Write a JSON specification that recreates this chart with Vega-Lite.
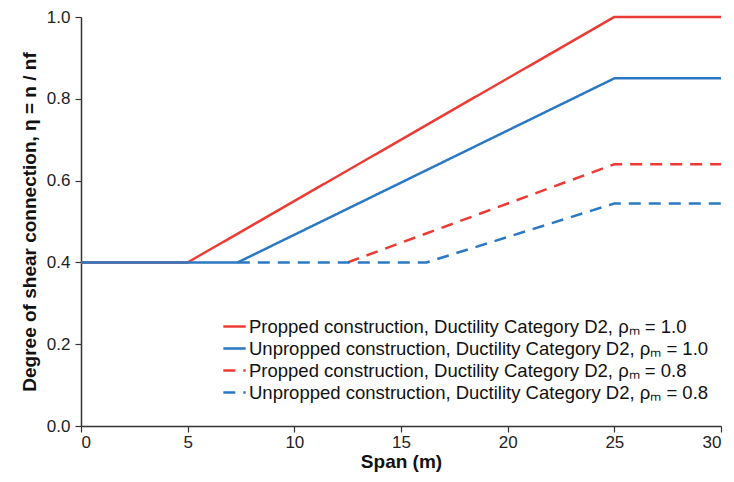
{
  "$schema": "https://vega.github.io/schema/vega-lite/v6.json",
  "width": 640,
  "height": 409,
  "autosize": {"type": "none"},
  "padding": {"left": 81, "top": 17, "right": 13, "bottom": 56},
  "background": "white",
  "config": {
    "font": "Liberation Sans",
    "view": {"stroke": null},
    "axis": {"grid": false, "domainColor": "#333", "tickColor": "#333", "domainWidth": 1.5, "tickWidth": 1.2, "tickSize": 6, "labelFontSize": 17, "labelColor": "#222", "titleFontSize": 19, "titleFontWeight": "bold", "titleColor": "#111"}
  },
  "data": {"values": [
    {"series": "Propped construction, Ductility Category D2, ρₘ = 1.0", "x": 0, "y": 0.4},
    {"series": "Propped construction, Ductility Category D2, ρₘ = 1.0", "x": 5, "y": 0.4},
    {"series": "Propped construction, Ductility Category D2, ρₘ = 1.0", "x": 25, "y": 1.0},
    {"series": "Propped construction, Ductility Category D2, ρₘ = 1.0", "x": 30, "y": 1.0},
    {"series": "Unpropped construction, Ductility Category D2, ρₘ = 1.0", "x": 0, "y": 0.4},
    {"series": "Unpropped construction, Ductility Category D2, ρₘ = 1.0", "x": 7.35, "y": 0.4},
    {"series": "Unpropped construction, Ductility Category D2, ρₘ = 1.0", "x": 25, "y": 0.85},
    {"series": "Unpropped construction, Ductility Category D2, ρₘ = 1.0", "x": 30, "y": 0.85},
    {"series": "Propped construction, Ductility Category D2, ρₘ = 0.8", "x": 12.5, "y": 0.4},
    {"series": "Propped construction, Ductility Category D2, ρₘ = 0.8", "x": 25, "y": 0.64},
    {"series": "Propped construction, Ductility Category D2, ρₘ = 0.8", "x": 30, "y": 0.64},
    {"series": "Unpropped construction, Ductility Category D2, ρₘ = 0.8", "x": 7.35, "y": 0.4},
    {"series": "Unpropped construction, Ductility Category D2, ρₘ = 0.8", "x": 16.2, "y": 0.4},
    {"series": "Unpropped construction, Ductility Category D2, ρₘ = 0.8", "x": 25, "y": 0.544},
    {"series": "Unpropped construction, Ductility Category D2, ρₘ = 0.8", "x": 30, "y": 0.544}
  ]},
  "mark": {"type": "line", "strokeWidth": 2.5, "clip": false},
  "encoding": {
    "x": {"field": "x", "type": "quantitative", "scale": {"domain": [0, 30], "nice": false}, "axis": {"values": [0, 5, 10, 15, 20, 25, 30], "title": "Span (m)", "titlePadding": 2, "labelPadding": 2}},
    "y": {"field": "y", "type": "quantitative", "scale": {"domain": [0, 1], "nice": false}, "axis": {"values": [0, 0.2, 0.4, 0.6, 0.8, 1.0], "format": ".1f", "title": "Degree of shear connection, η = n / nf", "titlePadding": 7, "labelPadding": 5}},
    "color": {"field": "series", "type": "nominal",
      "scale": {"domain": ["Propped construction, Ductility Category D2, ρₘ = 1.0", "Unpropped construction, Ductility Category D2, ρₘ = 1.0", "Propped construction, Ductility Category D2, ρₘ = 0.8", "Unpropped construction, Ductility Category D2, ρₘ = 0.8"], "range": ["#ec3b35", "#2b78c3", "#ec3b35", "#2b78c3"]},
      "legend": {"title": null, "orient": "none", "legendX": 141, "legendY": 297, "labelFontSize": 18.5, "labelColor": "#111", "symbolType": "stroke", "symbolSize": 500, "symbolStrokeWidth": 2.5, "rowPadding": 0, "labelOffset": 2, "labelLimit": 600}},
    "strokeDash": {"field": "series", "type": "nominal",
      "scale": {"domain": ["Propped construction, Ductility Category D2, ρₘ = 1.0", "Unpropped construction, Ductility Category D2, ρₘ = 1.0", "Propped construction, Ductility Category D2, ρₘ = 0.8", "Unpropped construction, Ductility Category D2, ρₘ = 0.8"], "range": [[1, 0], [1, 0], [12, 8], [12, 8]]},
      "legend": null}
  }
}
